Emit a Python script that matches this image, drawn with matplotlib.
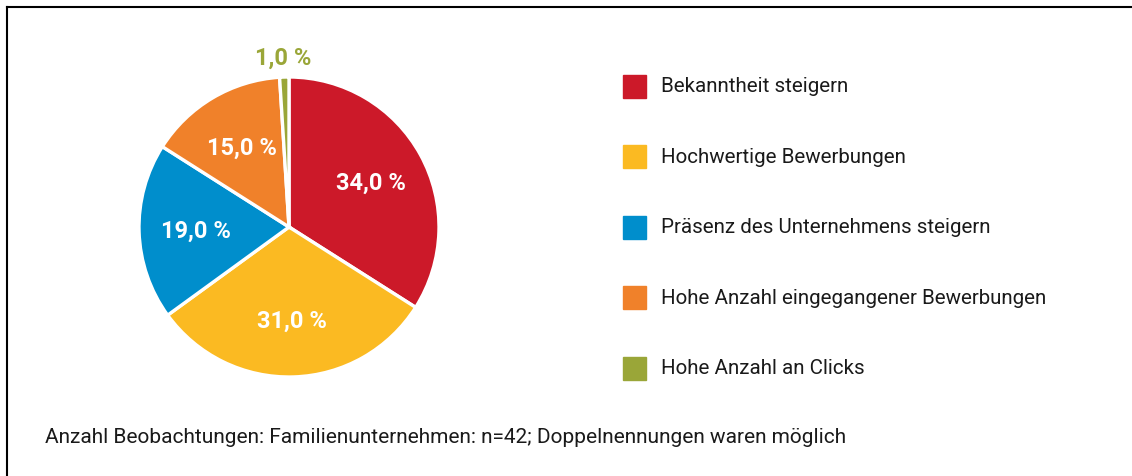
import matplotlib
matplotlib.use("Agg")
import matplotlib.pyplot as plt
from matplotlib.patches import Rectangle
from matplotlib.lines import Line2D
import numpy as np

labels = ["Bekanntheit steigern", "Hochwertige Bewerbungen",
          "Präsenz des Unternehmens steigern",
          "Hohe Anzahl eingegangener Bewerbungen", "Hohe Anzahl an Clicks"]
values = [34.0, 31.0, 19.0, 15.0, 1.0]
colors = ["#CC1929", "#FBBA22", "#008ECC", "#F0812A", "#9AA638"]
note = "Anzahl Beobachtungen: Familienunternehmen: n=42; Doppelnennungen waren möglich"

plt.rcParams["font.family"] = ["Roboto", "DejaVu Sans"]

W, H = 1132, 477
fig = plt.figure(figsize=(W / 100, H / 100), dpi=100)

# frame lines (top and left)
fig.add_artist(Line2D([7 / W, 1], [1 - 8 / H, 1 - 8 / H], color="black", lw=1.5))
fig.add_artist(Line2D([7 / W, 7 / W], [0, 1 - 8 / H], color="black", lw=1.5))

cx, cy, r = 289, 228, 150
ax = fig.add_axes([(cx - r) / W, (H - cy - r) / H, 2 * r / W, 2 * r / H])
wedges, _ = ax.pie(values, colors=colors, startangle=90, counterclock=False,
                   wedgeprops=dict(edgecolor="white", linewidth=2.4))
ax.set_xlim(-1, 1)
ax.set_ylim(-1, 1)
ax.axis("off")

for w, v, c in zip(wedges, values, colors):
    ang = np.deg2rad((w.theta1 + w.theta2) / 2)
    txt = f"{v:.1f} %".replace(".", ",")
    if v < 5:
        d, col = 1.13, c
    else:
        d, col = 0.62, "white"
    ax.text(d * np.cos(ang), d * np.sin(ang), txt, ha="center", va="center",
            color=col, fontsize=17, fontweight="bold")

# legend
y0, dy = 87, 70.5
for i, (lab, c) in enumerate(zip(labels, colors)):
    y = y0 + i * dy
    fig.add_artist(Rectangle((623 / W, 1 - (y + 11.5) / H), 23 / W, 23 / H,
                             color=c, transform=fig.transFigure))
    fig.text(661 / W, 1 - y / H, lab, ha="left", va="center",
             fontsize=14.8, color="#1a1a1a")

fig.text(45 / W, 1 - 438 / H, note, ha="left", va="center",
         fontsize=15, color="#1a1a1a")

fig.savefig("out.png", dpi=100)
